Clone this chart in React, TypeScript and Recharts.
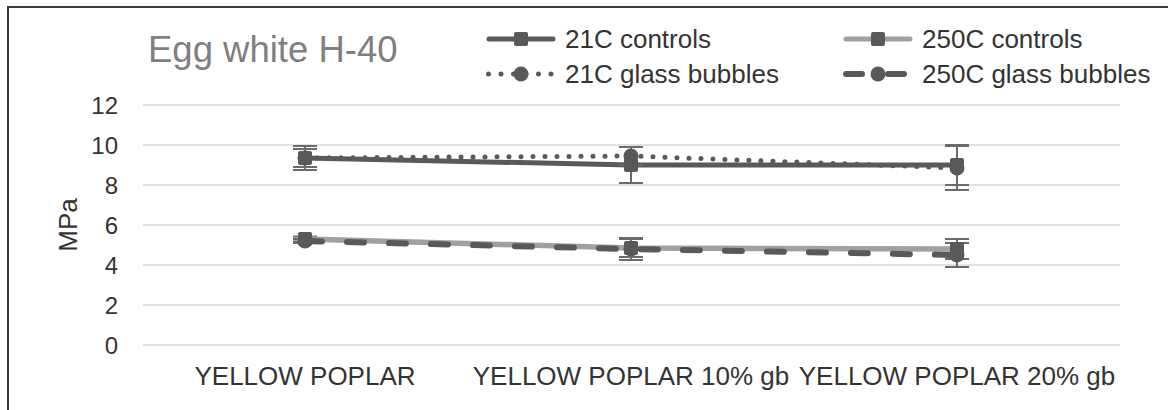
import React from 'react';
import { LineChart, Line, XAxis, YAxis, CartesianGrid, ErrorBar, Legend } from 'recharts';

const categories = ['YELLOW POPLAR', 'YELLOW POPLAR 10% gb', 'YELLOW POPLAR 20% gb'];

const controls21 = [9.35, 9.0, 9.0];
const controls21Err = [0.45, 0.9, 1.0];
const controls250 = [5.3, 4.85, 4.8];
const controls250Err = [0.12, 0.45, 0.5];
const glass21 = [9.35, 9.45, 8.85];
const glass21Err = [0.6, 0.45, 1.1];
const glass250 = [5.2, 4.8, 4.5];
const glass250Err = [0.1, 0.55, 0.6];

const yTicks = [0, 2, 4, 6, 8, 10, 12];

const data = categories.map((name, i) => ({
  name,
  c21: controls21[i],
  c21Err: controls21Err[i],
  c250: controls250[i],
  c250Err: controls250Err[i],
  g21: glass21[i],
  g21Err: glass21Err[i],
  g250: glass250[i],
  g250Err: glass250Err[i],
}));

const FONT = '"Liberation Sans", Arial, sans-serif';
const DARK = '#595959';
const TEXT = '#333333';

type Series = {
  key: string;
  name: string;
  stroke: string;
  width: number;
  dash?: string;
  marker: 'square' | 'circle';
};

const series: Series[] = [
  { key: 'c21', name: '21C controls', stroke: DARK, width: 5, marker: 'square' },
  { key: 'c250', name: '250C controls', stroke: '#a0a0a0', width: 5.5, marker: 'square' },
  { key: 'g21', name: '21C glass bubbles', stroke: DARK, width: 5, dash: '0 12', marker: 'circle' },
  { key: 'g250', name: '250C glass bubbles', stroke: DARK, width: 6, dash: '17 25', marker: 'circle' },
];

const Marker = ({ cx, cy, type }: { cx: number; cy: number; type: 'square' | 'circle' }) =>
  type === 'square' ? (
    <rect x={cx - 7} y={cy - 7} width={14} height={14} rx={2} fill={DARK} />
  ) : (
    <circle cx={cx} cy={cy} r={7.5} fill={DARK} />
  );

const LegendSymbol = ({ s }: { s: Series }) => {
  let line;
  if (s.dash === undefined) {
    line = <line x1={3} x2={67} y1={15} y2={15} stroke={s.stroke} strokeWidth={5} strokeLinecap="round" />;
  } else if (s.key === 'g21') {
    line = (
      <line x1={2.5} x2={67.5} y1={15} y2={15} stroke={s.stroke} strokeWidth={5} strokeLinecap="round" strokeDasharray="0 12.5" />
    );
  } else {
    line = (
      <line x1={3} x2={67} y1={15} y2={15} stroke={s.stroke} strokeWidth={6} strokeLinecap="round" strokeDasharray="16 26" />
    );
  }
  return (
    <svg width={70} height={30} style={{ display: 'block' }}>
      {line}
      <Marker cx={35} cy={15} type={s.marker} />
    </svg>
  );
};

const ChartLegend = () => (
  <div style={{ position: 'relative', width: 1168, height: 100, fontFamily: FONT, fontSize: 26, color: TEXT }}>
    {series.map((s, i) => {
      const col = i % 2;
      const row = Math.floor(i / 2);
      return (
        <div
          key={s.key}
          style={{
            position: 'absolute',
            left: col === 0 ? 486 : 843,
            top: row === 0 ? 24 : 59,
            height: 30,
            display: 'flex',
            alignItems: 'center',
            whiteSpace: 'nowrap',
          }}
        >
          <LegendSymbol s={s} />
          <span style={{ marginLeft: 9, lineHeight: '30px' }}>{s.name}</span>
        </div>
      );
    })}
  </div>
);

const MpaLabel = (props: any) => {
  const vb = props.viewBox || { y: 105, height: 240 };
  const y = vb.y + vb.height / 2;
  return (
    <text
      x={68}
      y={y}
      transform={`rotate(-90 68 ${y})`}
      textAnchor="middle"
      dominantBaseline="central"
      fontFamily={FONT}
      fontSize={26}
      fill={TEXT}
    >
      MPa
    </text>
  );
};

export default function App() {
  return (
    <div style={{ position: 'absolute', left: 0, top: 0, width: 1168, height: 410, overflow: 'hidden', background: '#fff' }}>
      <div
        style={{
          position: 'absolute',
          left: 7,
          top: 6,
          width: 1300,
          height: 500,
          borderLeft: '2px solid #3a3a3a',
          borderTop: '2px solid #3a3a3a',
        }}
      />
      <div style={{ position: 'absolute', left: 0, top: 0 }}>
        <LineChart width={1168} height={410} data={data} margin={{ top: 105, right: 48, bottom: 25, left: 83 }}>
          <CartesianGrid vertical={false} stroke="#d9d9d9" strokeWidth={1.5} />
          <XAxis
            dataKey="name"
            interval={0}
            height={40}
            axisLine={false}
            tickLine={false}
            tickSize={0}
            tickMargin={22}
            padding={{ left: 162, right: 163 }}
            tick={{ fontFamily: FONT, fontSize: 26, fill: TEXT }}
          />
          <YAxis
            width={60}
            domain={[0, 12]}
            ticks={yTicks}
            interval={0}
            axisLine={false}
            tickLine={false}
            tickSize={0}
            tickMargin={25}
            tick={{ fontFamily: FONT, fontSize: 24, fill: TEXT }}
            label={{ content: <MpaLabel /> }}
          />
          <Legend
            layout="horizontal"
            verticalAlign="middle"
            align="center"
            wrapperStyle={{ left: 0, top: 0, width: 1168, height: 100 }}
            content={() => <ChartLegend />}
          />
          {series.map((s) => (
            <Line
              key={s.key}
              dataKey={s.key}
              name={s.name}
              type="linear"
              stroke={s.stroke}
              strokeWidth={s.width}
              strokeDasharray={s.dash}
              strokeLinecap="round"
              isAnimationActive={false}
              dot={(p: any) => <Marker key={`${s.key}-${p.index}`} cx={p.cx} cy={p.cy} type={s.marker} />}
              activeDot={false}
            >
              <ErrorBar dataKey={`${s.key}Err`} width={12} strokeWidth={2} stroke="#6b6b6b" />
            </Line>
          ))}
        </LineChart>
      </div>
      <div
        style={{
          position: 'absolute',
          left: 148,
          top: 30,
          fontFamily: FONT,
          fontSize: 36.5,
          lineHeight: '40px',
          color: '#7f7f7f',
          whiteSpace: 'nowrap',
        }}
      >
        Egg white H-40
      </div>
    </div>
  );
}
